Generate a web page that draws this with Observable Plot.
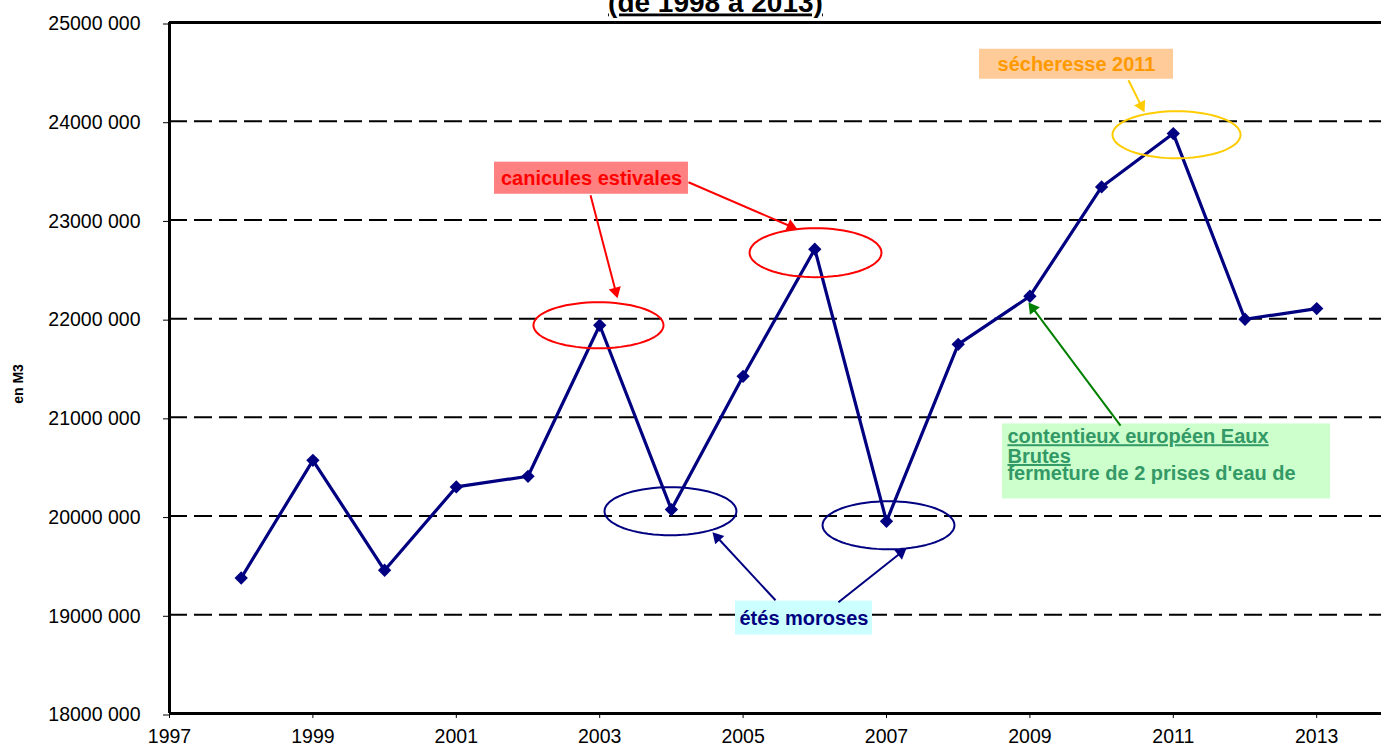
<!DOCTYPE html>
<html><head><meta charset="utf-8">
<script src="https://cdn.jsdelivr.net/npm/d3@7"></script>
<script src="https://cdn.jsdelivr.net/npm/@observablehq/plot@0.6"></script>
<style>html,body{margin:0;padding:0;background:#fff;overflow:hidden}</style>
</head><body><div id="chart"></div>
<script>
// ---- data ----
const years = [1998,1999,2000,2001,2002,2003,2004,2005,2006,2007,2008,2009,2010,2011,2012,2013];
const volumes = [19373000,20565000,19451000,20295000,20403000,21933000,20066000,21416000,22704000,19947000,21740000,22227000,23334000,23875000,21994000,22102000];
const xTicks = [1997,1999,2001,2003,2005,2007,2009,2011,2013];
const yTicks = [18000000,19000000,20000000,21000000,22000000,23000000,24000000,25000000];
const gridValues = [19000000,20000000,21000000,22000000,23000000,24000000];
const frameValues = [18000000,25000000];
const titleText = "(de 1998 à 2013)";
const yLabel = "en M3";

// annotation ellipses (center year, center volume, radius in years, radius in m3)
const ellipses = [
  {cx:2002.983, cy:21933000, rx:0.907, ry:233000, color:"#ff0000"},
  {cx:2006.010, cy:22668000, rx:0.920, ry:248000, color:"#ff0000"},
  {cx:2011.045, cy:23863000, rx:0.893, ry:238000, color:"#ffcc00"},
  {cx:2003.987, cy:20049000, rx:0.920, ry:243000, color:"#000080"},
  {cx:2007.028, cy:19907000, rx:0.920, ry:243000, color:"#000080"}
];
// annotation boxes
const boxes = [
  {x1:2001.533, x2:2004.238, y1:23260000, y2:23585000, fill:"#ff8080", tx:2002.886, ty:23423000, label:"canicules estivales", color:"#ff0000"},
  {x1:2008.297, x2:2011.003, y1:24425000, y2:24729000, fill:"#ffcc99", tx:2009.650, ty:24578000, label:"sécheresse 2011", color:"#ff9900"},
  {x1:2004.894, x2:2006.805, y1:18794000, y2:19138000, fill:"#ccffff", tx:2005.849, ty:18965000, label:"étés moroses", color:"#000080"},
  {x1:2008.618, x2:2013.193, y1:20173000, y2:20933000, fill:"#ccffcc", tx:null, ty:null, label:"", color:"#339966"}
];
const greenLines = [
  {x:2008.687, y:20738000, text:"contentieux européen Eaux", underline:true},
  {x:2008.687, y:20538000, text:"Brutes", underline:true},
  {x:2008.687, y:20363000, text:"fermeture de 2 prises d'eau de", underline:false}
];
// arrows (tail -> tip)
const arrows = [
  {x1:2002.872, y1:23250000, x2:2003.248, y2:22207000, color:"#ff0000"},
  {x1:2004.238, y1:23382000, x2:2005.759, y2:22905000, color:"#ff0000"},
  {x1:2010.375, y1:24415000, x2:2010.598, y2:24091000, color:"#ffcc00"},
  {x1:2005.452, y1:19147000, x2:2004.573, y2:19836000, color:"#000080"},
  {x1:2006.330, y1:19127000, x2:2007.279, y2:19674000, color:"#000080"},
  {x1:2010.264, y1:20917000, x2:2008.980, y2:22164000, color:"#008000"}
];

const FONT = "'Liberation Sans', Arial, sans-serif";
const series = years.map((year, i) => ({year, volume: volumes[i]}));
const ellipsePts = ellipses.flatMap((e, k) => d3.range(0, 73).map(j => {
  const t = j / 72 * 2 * Math.PI;
  return {k, color: e.color, x: e.cx + e.rx * Math.cos(t), y: e.cy + e.ry * Math.sin(t)};
}));

const base = {
  width: 1381, height: 747,
  marginLeft: 169, marginTop: 22, marginBottom: 34, marginRight: 0,
  style: {fontFamily: FONT, background: "#fff", overflow: "visible", color: "#000"},
  x: {domain: [1997, 2014], range: [169, 1387.9]},
  y: {domain: [18000000, 25000000]},
  color: {type: "identity"}
};
// first pass only to read the scales, so the arrow heads can be oriented
const probe = Plot.plot({...base, marks: [Plot.ruleX([1997])]});
const sx = probe.scale("x"), sy = probe.scale("y");
const HEAD_R = 4.6;
const tipOffset = 2 * Math.sqrt(Math.PI * HEAD_R * HEAD_R / (Math.sqrt(3) * 3));
const heads = arrows.map(a => {
  const X1 = sx.apply(a.x1), Y1 = sy.apply(a.y1), X2 = sx.apply(a.x2), Y2 = sy.apply(a.y2);
  const L = Math.hypot(X2 - X1, Y2 - Y1), ux = (X2 - X1) / L, uy = (Y2 - Y1) / L;
  const cx = X2 - ux * tipOffset, cy = Y2 - uy * tipOffset;
  return {x1: a.x1, y1: a.y1, x: sx.invert(cx), y: sy.invert(cy), rotate: Math.atan2(X2 - X1, -(Y2 - Y1)) * 180 / Math.PI, color: a.color};
});

const plot = Plot.plot({
  ...base,
  marks: [
    Plot.ruleY(gridValues, {stroke: "#000", strokeWidth: 2, strokeDasharray: "18,7"}),
    Plot.ruleY(frameValues, {stroke: "#000", strokeWidth: 3}),
    Plot.ruleX([1997], {stroke: "#000", strokeWidth: 3}),
    Plot.axisY(yTicks, {tickSize: 6, tickPadding: 23, fontSize: 19.5, tickFormat: v => `${v / 1000} 000`, label: null, dy: 1.5}),
    Plot.axisX(xTicks, {tickSize: 5, tickPadding: 11, fontSize: 19.5, tickFormat: d => String(d), label: null}),
    Plot.text([yLabel], {frameAnchor: "left", dx: -151, dy: 16, rotate: -90, textAnchor: "middle", fontWeight: "bold", fontSize: 14}),
    Plot.text([titleText], {frameAnchor: "top", dx: -60, dy: -11, lineAnchor: "bottom", fontSize: 28, fontWeight: "bold", ariaDescription: "underlined"}),
    Plot.line(series, {x: "year", y: "volume", stroke: "#000080", strokeWidth: 3.2}),
    Plot.dot(series, {x: "year", y: "volume", symbol: "diamond2", r: 6, fill: "#000080", stroke: null}),
    Plot.line(ellipsePts, {x: "x", y: "y", z: "k", stroke: "color", strokeWidth: 2}),
    Plot.rect(boxes, {x1: "x1", x2: "x2", y1: "y1", y2: "y2", fill: "fill"}),
    Plot.text(boxes.filter(b => b.label), {x: "tx", y: "ty", text: "label", fill: "color", fontWeight: "bold", fontSize: 20, lineAnchor: "middle"}),
    Plot.text(greenLines.filter(d => d.underline), {x: "x", y: "y", text: "text", fill: "#339966", fontWeight: "bold", fontSize: 20, textAnchor: "start", lineAnchor: "bottom", ariaDescription: "underlined"}),
    Plot.text(greenLines.filter(d => !d.underline), {x: "x", y: "y", text: "text", fill: "#339966", fontWeight: "bold", fontSize: 20, textAnchor: "start", lineAnchor: "bottom"}),
    Plot.link(heads, {x1: "x1", y1: "y1", x2: "x", y2: "y", stroke: "color", strokeWidth: 2}),
    Plot.dot(heads, {x: "x", y: "y", symbol: "triangle", r: HEAD_R, rotate: "rotate", fill: "color", stroke: null})
  ]
});
d3.select(plot).selectAll('g[aria-description="underlined"] text').style("text-decoration", "underline").attr("text-decoration", "underline");
document.getElementById("chart").appendChild(plot);
</script>
</body></html>
